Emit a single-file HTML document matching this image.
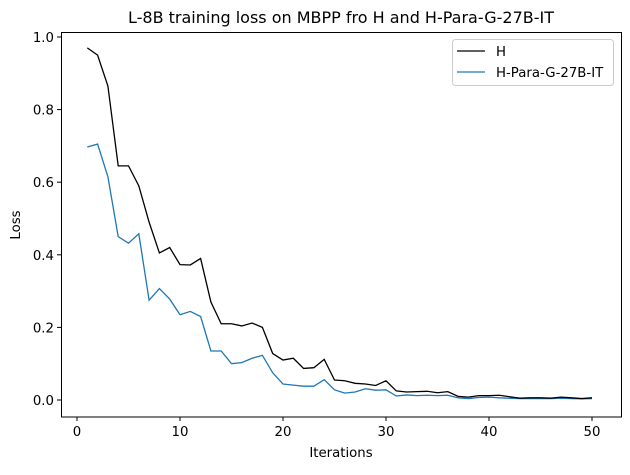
<!DOCTYPE html>
<html><head><meta charset="utf-8"><style>
body{margin:0;background:#fff;}
svg text{font-family:"DejaVu Sans","Liberation Sans",sans-serif;fill:#000;}
</style></head><body>
<svg width="630" height="470" viewBox="0 0 630 470" xmlns="http://www.w3.org/2000/svg">
<rect width="630" height="470" fill="#fff"/>
<text x="341" y="23" font-size="16" text-anchor="middle">L-8B training loss on MBPP fro H and H-Para-G-27B-IT</text>
<g transform="translate(77,400) scale(10.3,-363)" fill="none">
<polyline vector-effect="non-scaling-stroke" stroke="#1f77b4" stroke-width="1.3" points="1,0.697 2,0.705 3,0.615 4,0.45 5,0.432 6,0.458 7,0.275 8,0.307 9,0.278 10,0.235 11,0.244 12,0.23 13,0.135 14,0.135 15,0.1 16,0.103 17,0.115 18,0.123 19,0.075 20,0.044 21,0.041 22,0.038 23,0.038 24,0.056 25,0.028 26,0.019 27,0.022 28,0.031 29,0.027 30,0.028 31,0.011 32,0.014 33,0.012 34,0.013 35,0.012 36,0.013 37,0.006 38,0.004 39,0.007 40,0.008 41,0.006 42,0.005 43,0.004 44,0.004 45,0.004 46,0.004 47,0.005 48,0.004 49,0.003 50,0.004"/>
<polyline vector-effect="non-scaling-stroke" stroke="#000" stroke-width="1.3" points="1,0.97 2,0.95 3,0.865 4,0.645 5,0.645 6,0.59 7,0.49 8,0.405 9,0.42 10,0.373 11,0.372 12,0.39 13,0.27 14,0.21 15,0.21 16,0.204 17,0.212 18,0.2 19,0.128 20,0.11 21,0.115 22,0.087 23,0.089 24,0.112 25,0.055 26,0.053 27,0.046 28,0.044 29,0.04 30,0.053 31,0.025 32,0.022 33,0.023 34,0.024 35,0.02 36,0.023 37,0.01 38,0.008 39,0.012 40,0.012 41,0.013 42,0.009 43,0.005 44,0.006 45,0.006 46,0.005 47,0.008 48,0.006 49,0.004 50,0.006"/>
</g>
<rect x="61.5" y="32.5" width="560" height="384.5" fill="none" stroke="#000" stroke-width="1"/>
<g stroke="#000" stroke-width="1">
<line x1="77" y1="417" x2="77" y2="421"/><line x1="180" y1="417" x2="180" y2="421"/><line x1="283" y1="417" x2="283" y2="421"/><line x1="386" y1="417" x2="386" y2="421"/><line x1="489" y1="417" x2="489" y2="421"/><line x1="592" y1="417" x2="592" y2="421"/>
<line x1="57" y1="400" x2="61" y2="400"/><line x1="57" y1="327.4" x2="61" y2="327.4"/><line x1="57" y1="254.8" x2="61" y2="254.8"/><line x1="57" y1="182.2" x2="61" y2="182.2"/><line x1="57" y1="109.6" x2="61" y2="109.6"/><line x1="57" y1="37" x2="61" y2="37"/>
</g>
<g font-size="13.3" text-anchor="middle">
<text x="77" y="436">0</text><text x="180" y="436">10</text><text x="283" y="436">20</text><text x="386" y="436">30</text><text x="489" y="436">40</text><text x="592" y="436">50</text>
<text x="341" y="457">Iterations</text>
</g>
<g font-size="13.3" text-anchor="end">
<text x="54" y="405">0.0</text><text x="54" y="332.4">0.2</text><text x="54" y="259.8">0.4</text><text x="54" y="187.2">0.6</text><text x="54" y="114.6">0.8</text><text x="54" y="42">1.0</text>
</g>
<text x="20" y="225" font-size="13.3" text-anchor="middle" transform="rotate(-90 20 225)">Loss</text>
<rect x="452.5" y="39.5" width="161" height="46" rx="3" fill="#fff" stroke="#ccc"/>
<line x1="457" y1="51" x2="485" y2="51" stroke="#000" stroke-width="1.3"/>
<text x="496" y="56" font-size="13.3">H</text>
<line x1="457" y1="72" x2="485" y2="72" stroke="#1f77b4" stroke-width="1.3"/>
<text x="496" y="77" font-size="13.3">H-Para-G-27B-IT</text>
</svg>
</body></html>
